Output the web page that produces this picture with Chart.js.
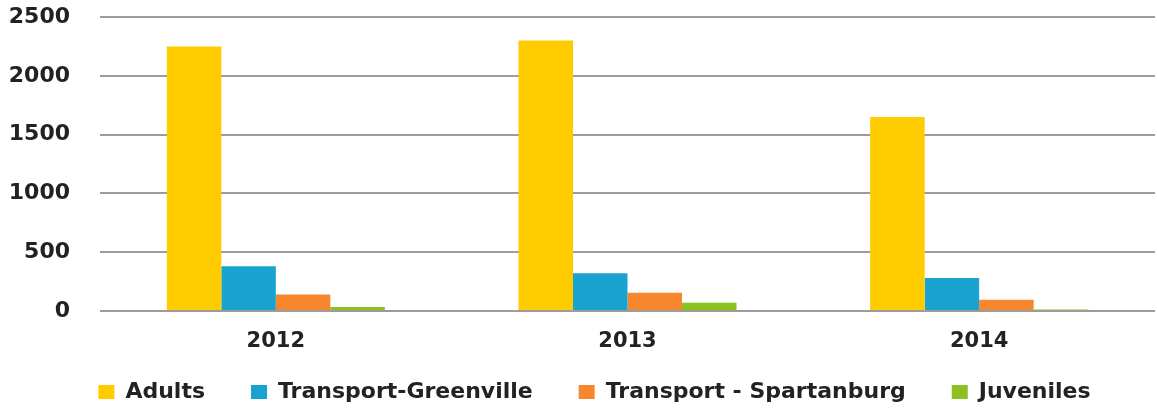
<!DOCTYPE html>
<html>
<head>
<meta charset="utf-8">
<script src="https://cdn.jsdelivr.net/npm/chart.js@4"></script>
<style>
  html, body { margin: 0; padding: 0; background: #ffffff; }
  #wrap { width: 1158px; height: 410px; }
</style>
</head>
<body>
<div id="wrap"><canvas id="chart" width="1158" height="410"></canvas></div>
<script>
// Yearly counts per group
const years = ['2012', '2013', '2014'];
const adults = [2250, 2300, 1650];
const transportGreenville = [380, 320, 280];
const transportSpartanburg = [140, 155, 95];
const juveniles = [35, 70, 12];
const yTicks = [0, 500, 1000, 1500, 2000, 2500];

const FONT = "'DejaVu Sans', sans-serif";
const INK = '#222222';

// Axis sizes (px) so the plot spans the same band as the printed chart
const Y_AXIS_WIDTH = 90;
const X_AXIS_HEIGHT = 42;
const LEGEND_BAND = 57;
const LEGEND_SHIFT_X = 12;
const LEGEND_SHIFT_Y = 3;

// The legend keeps its tall label padding (wide gaps between entries)
// but only reserves a short band under the year labels.
const legendBand = {
  id: 'legendBand',
  afterInit(chart) {
    const legend = chart.legend;
    const baseFit = legend.fit.bind(legend);
    legend.fit = function () {
      baseFit();
      this._fullHeight = this.height;
      if (this.isHorizontal()) this.height = LEGEND_BAND;
    };
  },
  afterLayout(chart) {
    const legend = chart.legend;
    if (legend && legend._fullHeight) {
      legend.top = legend.bottom - legend._fullHeight + LEGEND_SHIFT_Y;
      legend.height = legend._fullHeight;
      legend.left += LEGEND_SHIFT_X;
      legend.right += LEGEND_SHIFT_X;
    }
  }
};

new Chart(document.getElementById('chart'), {
  type: 'bar',
  data: {
    labels: years,
    datasets: [
      { label: 'Adults', data: adults, backgroundColor: '#FFCC00' },
      { label: 'Transport-Greenville', data: transportGreenville, backgroundColor: '#1BA3CF' },
      { label: 'Transport - Spartanburg', data: transportSpartanburg, backgroundColor: '#F6872E' },
      { label: 'Juveniles', data: juveniles, backgroundColor: '#8DC11F' }
    ]
  },
  options: {
    responsive: false,
    animation: false,
    layout: { padding: { top: 17, left: 10, right: 3, bottom: 0 } },
    datasets: {
      bar: { categoryPercentage: 0.62, barPercentage: 1.0, borderWidth: 0 }
    },
    scales: {
      x: {
        grid: { display: false, drawTicks: false },
        border: { display: false },
        afterFit(scale) { scale.height = X_AXIS_HEIGHT; },
        ticks: {
          color: INK,
          padding: 18,
          font: { family: FONT, size: 21, weight: 'bold', lineHeight: 1.2 }
        }
      },
      y: {
        min: 0,
        max: 2500,
        afterBuildTicks(scale) {
          scale.ticks = yTicks.map(v => ({ value: v }));
        },
        afterFit(scale) {
          scale.width = Y_AXIS_WIDTH;
          scale.paddingTop = 12;
          scale.paddingBottom = 12;
        },
        grid: { color: '#9c9c9c', lineWidth: 2, drawTicks: false },
        border: { display: false },
        ticks: {
          color: INK,
          padding: 30,
          callback: v => String(v),
          font: { family: FONT, size: 22, weight: 'bold' }
        }
      }
    },
    plugins: {
      tooltip: { enabled: false },
      legend: {
        position: 'bottom',
        align: 'center',
        labels: {
          color: INK,
          boxWidth: 16,
          boxHeight: 14,
          padding: 46,
          font: { family: FONT, size: 22, weight: 'bold' }
        }
      }
    }
  },
  plugins: [legendBand]
});
</script>
</body>
</html>
